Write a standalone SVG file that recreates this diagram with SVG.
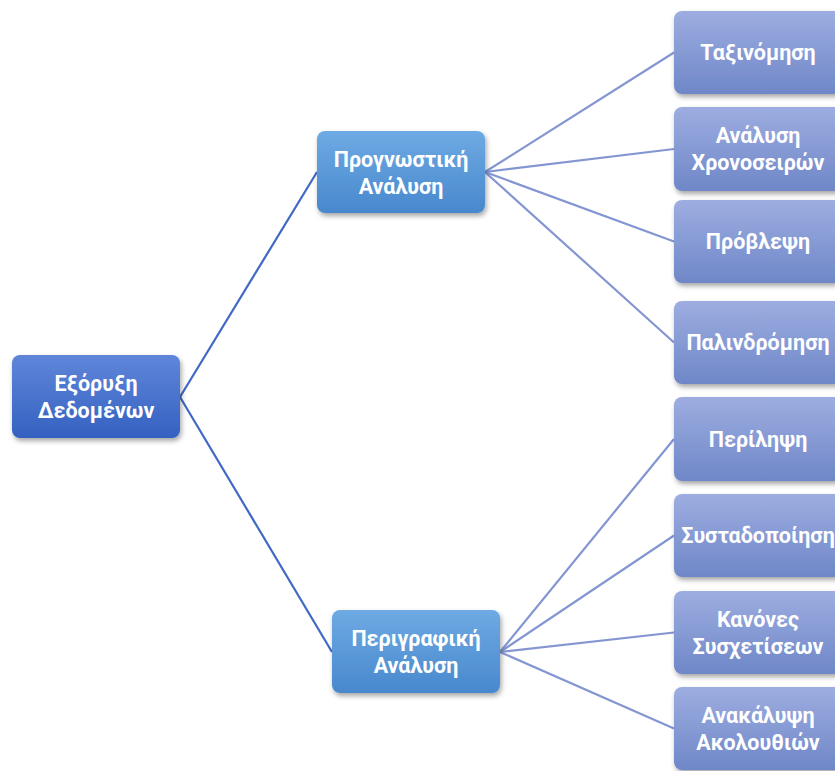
<svg xmlns="http://www.w3.org/2000/svg" width="835" height="771" viewBox="0 0 835 771">
  <defs>
    <linearGradient id="gRoot" x1="0" y1="0" x2="0" y2="1">
      <stop offset="0" stop-color="#5f86d9"/>
      <stop offset="1" stop-color="#3461c1"/>
    </linearGradient>
    <linearGradient id="gMid" x1="0" y1="0" x2="0" y2="1">
      <stop offset="0" stop-color="#6eaae3"/>
      <stop offset="1" stop-color="#4888cd"/>
    </linearGradient>
    <linearGradient id="gLeaf" x1="0" y1="0" x2="0" y2="1">
      <stop offset="0" stop-color="#9dade0"/>
      <stop offset="1" stop-color="#6f87c8"/>
    </linearGradient>
    <filter id="shadow" x="-10%" y="-10%" width="130%" height="140%">
      <feDropShadow dx="1.5" dy="3" stdDeviation="2.5" flood-color="#000" flood-opacity="0.35"/>
    </filter>
  </defs>
  <style>
    .box { filter: url(#shadow); }
    .root { fill: url(#gRoot); }
    .mid { fill: url(#gMid); }
    .leaf { fill: url(#gLeaf); }
    .lbl { font-family: Roboto, "Liberation Sans", "Noto Sans", sans-serif; font-weight: bold; font-size: 21.5px; fill: #ffffff; text-anchor: middle; }
    .c1 { stroke: #4068c4; stroke-width: 2.2; fill: none; }
    .c2 { stroke: #8496d2; stroke-width: 2.2; fill: none; }
  </style>
  <rect width="835" height="771" fill="#ffffff"/>

  <g id="connectors">
    <line class="c1" x1="180" y1="397" x2="317" y2="172"/>
    <line class="c1" x1="180" y1="397" x2="332" y2="652"/>
    <line class="c2" x1="485" y1="172" x2="674" y2="52.5"/>
    <line class="c2" x1="485" y1="172" x2="674" y2="149"/>
    <line class="c2" x1="485" y1="172" x2="674" y2="241.5"/>
    <line class="c2" x1="485" y1="172" x2="674" y2="342.5"/>
    <line class="c2" x1="500" y1="652" x2="674" y2="439"/>
    <line class="c2" x1="500" y1="652" x2="674" y2="535.5"/>
    <line class="c2" x1="500" y1="652" x2="674" y2="632.5"/>
    <line class="c2" x1="500" y1="652" x2="674" y2="728.5"/>
  </g>

  <g id="node-data-mining">
    <rect class="box root" x="12" y="355" width="168" height="83" rx="8"/>
    <text class="lbl" x="96" y="390.5">Εξόρυξη</text>
    <text class="lbl" x="96" y="417.5">Δεδομένων</text>
  </g>

  <g id="node-predictive">
    <rect class="box mid" x="317" y="131" width="168" height="82" rx="8"/>
    <text class="lbl" x="401" y="166.5">Προγνωστική</text>
    <text class="lbl" x="401" y="193.5">Ανάλυση</text>
  </g>

  <g id="node-descriptive">
    <rect class="box mid" x="332" y="610" width="168" height="83" rx="8"/>
    <text class="lbl" x="416" y="645.5">Περιγραφική</text>
    <text class="lbl" x="416" y="672.5">Ανάλυση</text>
  </g>

  <g id="node-classification">
    <rect class="box leaf" x="674" y="11" width="168" height="83" rx="8"/>
    <text class="lbl" x="758" y="60">Ταξινόμηση</text>
  </g>

  <g id="node-timeseries">
    <rect class="box leaf" x="674" y="107" width="168" height="84" rx="8"/>
    <text class="lbl" x="758" y="143">Ανάλυση</text>
    <text class="lbl" x="758" y="170">Χρονοσειρών</text>
  </g>

  <g id="node-forecast">
    <rect class="box leaf" x="674" y="200" width="168" height="83" rx="8"/>
    <text class="lbl" x="758" y="249">Πρόβλεψη</text>
  </g>

  <g id="node-regression">
    <rect class="box leaf" x="674" y="301" width="168" height="83" rx="8"/>
    <text class="lbl" x="758" y="350">Παλινδρόμηση</text>
  </g>

  <g id="node-summarization">
    <rect class="box leaf" x="674" y="397" width="168" height="84" rx="8"/>
    <text class="lbl" x="758" y="446.5">Περίληψη</text>
  </g>

  <g id="node-clustering">
    <rect class="box leaf" x="674" y="494" width="168" height="83" rx="8"/>
    <text class="lbl" x="758" y="543">Συσταδοποίηση</text>
  </g>

  <g id="node-association">
    <rect class="box leaf" x="674" y="591" width="168" height="83" rx="8"/>
    <text class="lbl" x="758" y="626.5">Κανόνες</text>
    <text class="lbl" x="758" y="653.5">Συσχετίσεων</text>
  </g>

  <g id="node-sequences">
    <rect class="box leaf" x="674" y="687" width="168" height="83" rx="8"/>
    <text class="lbl" x="758" y="722.5">Ανακάλυψη</text>
    <text class="lbl" x="758" y="749.5">Ακολουθιών</text>
  </g>
</svg>
